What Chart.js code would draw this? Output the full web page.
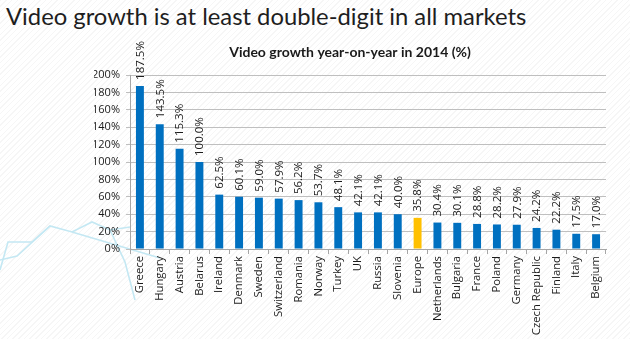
<!DOCTYPE html>
<html>
<head>
<meta charset="utf-8">
<script src="https://cdn.jsdelivr.net/npm/chart.js@4/dist/chart.umd.min.js"></script>
<style>
  html, body { margin: 0; padding: 0; }
  #wrap {
    position: relative; width: 630px; height: 339px; overflow: hidden;
    background-color: #ffffff;
    background-image: repeating-linear-gradient(-45deg, rgba(0,0,0,0.035) 0px, rgba(0,0,0,0.035) 1px, transparent 1px, transparent 4px);
  }
  #deco { position: absolute; left: 0; top: 0; }
  #mainTitle {
    position: absolute; left: 6px; top: 1px; margin: 0;
    font-family: Lato, "Open Sans", sans-serif; font-weight: 400;
    font-size: 23.8px; color: #1e1e1e; white-space: nowrap; line-height: 30px;
  }
  canvas { position: absolute; left: 0; top: 0; }
</style>
</head>
<body>
<div id="wrap">
  <svg id="deco" width="630" height="339">
    <g fill="none" stroke="#c4e8f3" stroke-width="1.6">
      <polyline points="0,270 8,242 32,242 50,226 72,232 92,222 110,230 130,227"/>
      <polyline points="0,260 17,256 50,226"/>
      <polyline points="72,232 160,258"/>
      <polyline points="110,230 125,262 135,300"/>
    </g>
  </svg>
  <div id="mainTitle">Video growth is at least double-digit in all markets</div>
  <canvas id="c" width="630" height="339"></canvas>
</div>
<script>
const categories = ["Greece","Hungary","Austria","Belarus","Ireland","Denmark","Sweden","Switzerland","Romania","Norway","Turkey","UK","Russia","Slovenia","Europe","Netherlands","Bulgaria","France","Poland","Germany","Czech Republic","Finland","Italy","Belgium"];
const growth = [187.5,143.5,115.3,100.0,62.5,60.1,59.0,57.9,56.2,53.7,48.1,42.1,42.1,40.0,35.8,30.4,30.1,28.8,28.2,27.9,24.2,22.2,17.5,17.0];
const highlight = "Europe";
const yTicks = [0,20,40,60,80,100,120,140,160,180,200];
const chartTitle = "Video growth year-on-year in 2014 (%)";

const BLUE = "#0070c0", GOLD = "#ffc000";
const barColors = categories.map(c => c === highlight ? GOLD : BLUE);

const valueLabels = {
  id: "valueLabels",
  afterDatasetsDraw(chart) {
    const ctx = chart.ctx;
    const meta = chart.getDatasetMeta(0);
    ctx.save();
    ctx.font = "11.5px 'Open Sans', sans-serif";
    ctx.fillStyle = "#1a1a1a";
    ctx.textAlign = "left";
    ctx.textBaseline = "middle";
    meta.data.forEach((bar, i) => {
      ctx.save();
      ctx.translate(bar.x, bar.y - 6);
      ctx.rotate(-Math.PI / 2);
      ctx.fillText(growth[i].toFixed(1) + "%", 0, 0.5);
      ctx.restore();
    });
    ctx.restore();
  }
};

new Chart(document.getElementById("c"), {
  type: "bar",
  data: {
    labels: categories,
    datasets: [{
      data: growth,
      backgroundColor: barColors,
      borderWidth: 0,
      barPercentage: 0.4,
      categoryPercentage: 1.0
    }]
  },
  options: {
    responsive: false,
    animation: false,
    layout: { padding: { left: 94, right: 24, top: 0, bottom: 0 } },
    plugins: {
      legend: { display: false },
      tooltip: { enabled: false },
      title: {
        display: true,
        text: chartTitle,
        color: "#1a1a1a",
        font: { family: "Lato, 'Open Sans', sans-serif", size: 14, weight: "bold", lineHeight: 1.2 },
        padding: { top: 44, bottom: 14.2 }
      }
    },
    scales: {
      x: {
        afterFit(scale) { scale.height = 90; },
        grid: { drawOnChartArea: false, drawTicks: true, tickLength: 5, color: "#a6a6a6", offset: true },
        border: { display: true, color: "#a6a6a6" },
        ticks: {
          autoSkip: false, minRotation: 90, maxRotation: 90, padding: 2,
          color: "#1a1a1a",
          font: { family: "'Open Sans', sans-serif", size: 11.3 }
        }
      },
      y: {
        min: 0, max: 200,
        afterFit(scale) { scale.width = 36; },
        afterBuildTicks(scale) { scale.ticks = yTicks.map(v => ({ value: v })); },
        grid: { color: "#bfbfbf", drawTicks: true, tickLength: 4 },
        border: { display: true, color: "#a6a6a6" },
        ticks: {
          padding: 6, color: "#1a1a1a",
          font: { family: "'Open Sans', sans-serif", size: 11 },
          callback: v => v + "%"
        }
      }
    }
  },
  plugins: [valueLabels]
});
</script>
</body>
</html>
